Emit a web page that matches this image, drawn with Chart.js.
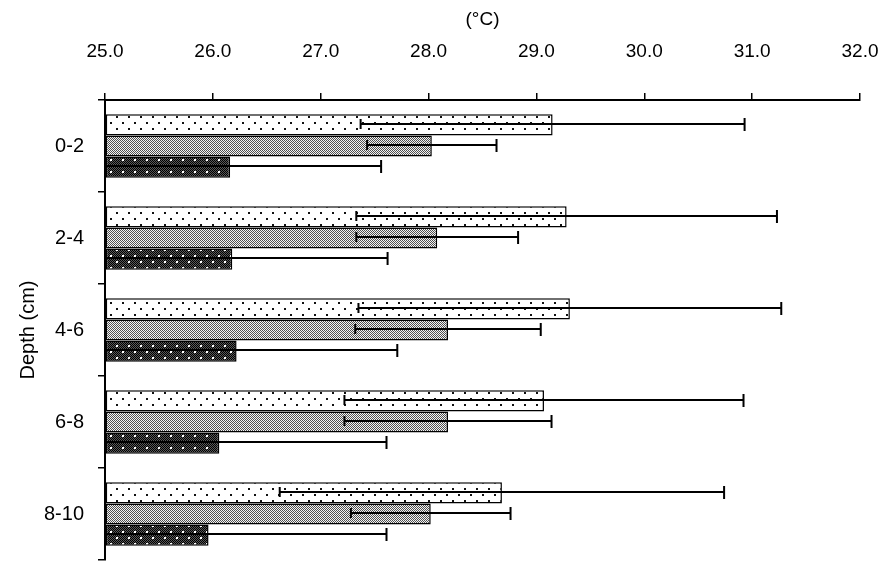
<!DOCTYPE html>
<html>
<head>
<meta charset="utf-8">
<script src="https://cdn.jsdelivr.net/npm/chart.js@4.4.1/dist/chart.umd.min.js"></script>
<style>
    html, body { margin: 0; background: #fff; }
    #wrap { width: 887px; height: 586px; position: relative; }
</style>
</head>
<body>
<div id="wrap"><canvas id="myChart"></canvas></div>
<script>
// data
const depths = ['0-2', '2-4', '4-6', '6-8', '8-10'];
const xTickLabels = ['25.0', '26.0', '27.0', '28.0', '29.0', '30.0', '31.0', '32.0'];

const dottedValues = [29.15, 29.28, 29.31, 29.07, 28.68];
const dottedErrors = [1.78, 1.95, 1.96, 1.85, 2.06];

const greyValues = [28.03, 28.08, 28.18, 28.18, 28.02];
const greyErrors = [0.60, 0.75, 0.86, 0.96, 0.74];

const darkValues = [26.16, 26.18, 26.22, 26.06, 25.96];
const darkErrors = [1.40, 1.44, 1.49, 1.55, 1.65];

//patterns
const makePattern = (w, h, paint) => {
    const c = document.createElement('canvas');
    c.width = w;
    c.height = h;
    const g = c.getContext('2d');
    paint(g);
    return g.createPattern(c, 'repeat');
}

const ctx = document.getElementById('myChart').getContext('2d');

const dottedFill = makePattern(12, 12, g => {
    g.fillStyle = '#fff';
    g.fillRect(0, 0, 12, 12);
    g.fillStyle = '#111';
    g.fillRect(2, 2, 2, 2);
    g.fillRect(8, 8, 2, 2);
});

const greyFill = makePattern(4, 4, g => {
    for (let i = 0; i < 4; i++) {
        for (let j = 0; j < 4; j++) {
            g.fillStyle = (i + j) % 2 === 0 ? '#505050' : '#f4f4f4';
            g.fillRect(i, j, 1, 1);
        }
    }
});

const darkFill = makePattern(12, 12, g => {
    for (let i = 0; i < 12; i++) {
        for (let j = 0; j < 12; j++) {
            g.fillStyle = (i + j) % 2 === 0 ? '#000' : '#5a5a5a';
            g.fillRect(i, j, 1, 1);
        }
    }
    g.fillStyle = '#fff';
    g.fillRect(2, 3, 2, 2);
    g.fillRect(8, 9, 2, 2);
});

const errorBars = {
    id: 'errorBars',
    afterDatasetsDraw(chart) {
        const c = chart.ctx;
        const xScale = chart.scales.x;
        const area = chart.chartArea;
        c.save();
        c.strokeStyle = '#000';
        c.lineWidth = 2;
        chart.data.datasets.forEach((ds, i) => {
            const meta = chart.getDatasetMeta(i);
            meta.data.forEach((bar, j) => {
                const lo = ds.data[j] - ds.errors[j];
                const hi = ds.data[j] + ds.errors[j];
                const x1 = Math.max(xScale.getPixelForValue(lo), area.left);
                const x2 = xScale.getPixelForValue(hi);
                const y = Math.round(bar.y) - 1;
                c.beginPath();
                c.moveTo(x1, y);
                c.lineTo(x2, y);
                c.moveTo(x2, y - 6);
                c.lineTo(x2, y + 7);
                if (lo >= xScale.min) {
                    c.moveTo(x1, y - 5);
                    c.lineTo(x1, y + 5);
                }
                c.stroke();
            });
        });
        c.restore();
    }
};

Chart.defaults.font.family = '"Liberation Sans", Arial, sans-serif';
Chart.defaults.color = '#000';

new Chart(ctx, {
    type: 'bar',
    data: {
        labels: depths,
        datasets: [
            { data: dottedValues, errors: dottedErrors, backgroundColor: dottedFill },
            { data: greyValues, errors: greyErrors, backgroundColor: greyFill },
            { data: darkValues, errors: darkErrors, backgroundColor: darkFill }
        ]
    },
    options: {
        indexAxis: 'y',
        responsive: true,
        maintainAspectRatio: false,
        animation: false,
        layout: { padding: { right: 27, bottom: 1, top: 0, left: 0 } },
        datasets: {
            bar: {
                base: 25,
                borderColor: '#000',
                borderWidth: 1.5,
                borderSkipped: false,
                categoryPercentage: 0.69,
                barPercentage: 1.0
            }
        },
        plugins: {
            legend: { display: false },
            tooltip: { enabled: false }
        },
        scales: {
            x: {
                position: 'top',
                min: 25,
                max: 32,
                ticks: {
                    stepSize: 1,
                    callback: (v, i) => xTickLabels[i],
                    font: { size: 19 },
                    padding: 30,
                    maxRotation: 0
                },
                grid: { drawOnChartArea: false, tickLength: 7, color: '#000', lineWidth: 1.5 },
                border: { color: '#000', width: 2 },
                title: { display: true, text: '(°C)', font: { size: 19 }, padding: { top: 8, bottom: 0 } },
                afterFit: scale => {
                    scale.height = 100;
                    scale.paddingLeft = 0;
                    scale.paddingRight = 0;
                }
            },
            y: {
                ticks: { font: { size: 20 }, padding: 14 },
                grid: { drawOnChartArea: false, tickLength: 7, color: '#000', lineWidth: 1.5, offset: true },
                border: { color: '#000', width: 2 },
                title: { display: true, text: 'Depth (cm)', font: { size: 20 }, padding: { top: 16, bottom: 0 } },
                afterFit: scale => { scale.width = 105; }
            }
        }
    },
    plugins: [errorBars]
});
</script>
</body>
</html>
